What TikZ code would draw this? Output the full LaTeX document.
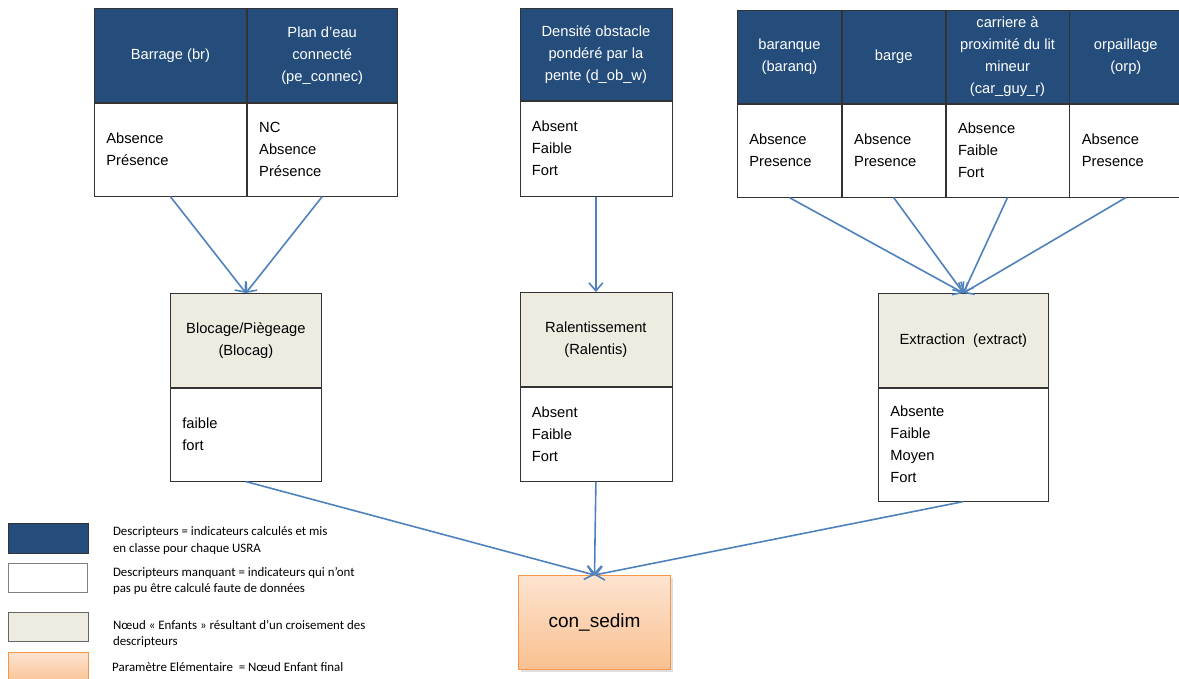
\documentclass[tikz,border=0pt]{standalone}
\usepackage{fontspec}
\setmainfont{Liberation Sans}
\newfontfamily\legendfam{Carlito}
\usetikzlibrary{positioning}
\usetikzlibrary{arrows.meta}
\usetikzlibrary{shadows}

\definecolor{descblue}{RGB}{36,77,124}
\definecolor{kidgray}{RGB}{238,236,225}
\definecolor{linkblue}{RGB}{79,129,189}
\definecolor{finaltop}{RGB}{253,228,208}
\definecolor{finalbot}{RGB}{250,192,144}
\definecolor{finaledge}{RGB}{247,150,70}
\newcommand\boxfont{\fontsize{14.7}{22}\selectfont}
\newcommand\legfont{\legendfam\fontsize{12.9}{16.5}\selectfont}

\tikzset{
	desc/.style={draw=black!80, line width=0.8pt, fill=descblue, text=white, align=center, font=\boxfont, minimum width=#1, minimum height=93pt, inner sep=2pt},
	kid/.style={draw=black!80, line width=0.8pt, fill=kidgray, align=center, font=\boxfont, minimum width=#1, minimum height=94pt, inner sep=2pt},
	vals/.style={draw=black!80, line width=0.8pt, fill=white, align=left, font=\boxfont, text width=#1, inner xsep=12pt, inner ysep=2pt, minimum height=93pt},
	final/.style={draw=finaledge, line width=1pt, top color=finaltop, bottom color=finalbot, font=\fontsize{19}{22}\selectfont, minimum width=152pt, minimum height=94pt, drop shadow={opacity=0.25, shadow xshift=2pt, shadow yshift=-2pt}},
	legbox/.style={line width=0.8pt, minimum width=80pt, minimum height=30pt, inner sep=0pt, anchor=north west},
	legtext/.style={font=\legfont, align=left, inner sep=0pt, anchor=west},
	link/.style={draw=linkblue, line width=1.6pt, -{Straight Barb[length=8pt,width=14pt]}}
}

\begin{document}
\begin{tikzpicture}[x=1pt, y=-1pt]
	\useasboundingbox (0,0) rectangle (1179,679);

	% descripteurs
	\node [desc=152pt, minimum height=94pt, anchor=north west] (br) at (94,8) {Barrage (br)};
	\node [desc=150pt, minimum height=94pt, right=0pt of br] (pe) {Plan d’eau\\connecté\\(pe\_connec)};
	\node [vals=128pt, below=0pt of br] (brv) {Absence\\Présence};
	\node [vals=126pt, below=0pt of pe] (pev) {NC\\Absence\\Présence};

	\node [desc=152pt, minimum height=92pt, anchor=north west] (dob) at (519.5,8) {Densité obstacle\\pondéré par la\\pente (d\_ob\_w)};
	\node [vals=128pt, minimum height=95pt, below=0pt of dob] (dobv) {Absent\\Faible\\Fort};

	\node [desc=104pt, anchor=north west] (baranq) at (737,10) {baranque\\(baranq)};
	\node [desc=103pt, right=0pt of baranq] (barge) {barge};
	\node [desc=123pt, right=0pt of barge] (car) {carriere à\\proximité du lit\\mineur\\(car\_guy\_r)};
	\node [desc=112pt, right=0pt of car] (orp) {orpaillage\\(orp)};
	\node [vals=80pt, below=0pt of baranq] (baranqv) {Absence\\Presence};
	\node [vals=79pt, below=0pt of barge] (bargev) {Absence\\Presence};
	\node [vals=99pt, below=0pt of car] (carv) {Absence\\Faible\\Fort};
	\node [vals=88pt, below=0pt of orp] (orpv) {Absence\\Presence};

	% noeuds enfants
	\node [kid=151pt, anchor=north west] (blocag) at (170,293) {Blocage/Piègeage\\(Blocag)};
	\node [vals=127pt, below=0pt of blocag] (blocagv) {faible\\fort};

	\node [kid=152pt, anchor=north west] (ralentis) at (519.5,292) {Ralentissement\\(Ralentis)};
	\node [vals=128pt, minimum height=94pt, below=0pt of ralentis] (ralentisv) {Absent\\Faible\\Fort};

	\node [kid=170pt, anchor=north west] (extract) at (878,293) {Extraction~ (extract)};
	\node [vals=146pt, minimum height=113pt, below=0pt of extract] (extractv) {Absente\\Faible\\Moyen\\Fort};

	\node [final, anchor=north west] (consedim) at (518,575) {con\_sedim};

	% liens
	\draw [link] (brv.south) -- (blocag.north);
	\draw [link] (pev.south) -- (blocag.north);
	\draw [link] (dobv.south) -- (ralentis.north);
	\draw [link] (baranqv.south) -- (extract.north);
	\draw [link] (bargev.south) -- (extract.north);
	\draw [link] (carv.south) -- (extract.north);
	\draw [link] (orpv.south) -- (extract.north);
	\draw [link] (blocagv.south) -- (consedim.north);
	\draw [link] (ralentisv.south) -- (consedim.north);
	\draw [link] (extractv.south) -- (consedim.north);

	% legende
	\node [legbox, draw=black!80, fill=descblue] (leg1) at (8,523) {};
	\node [legbox, draw=black!50, fill=white, minimum width=79pt, minimum height=29pt] (leg2) at (8,563) {};
	\node [legbox, draw=black!60, fill=kidgray, minimum height=29pt] (leg3) at (8,612) {};
	\node [legbox, draw=finaledge, top color=finaltop, bottom color=finalbot, minimum height=32pt] (leg4) at (8,652) {};
	\node [legtext, right=24pt of leg1, yshift=-2pt] (leg1t) {Descripteurs = indicateurs calculés et mis\\en classe pour chaque USRA};
	\node [legtext, right=25pt of leg2, yshift=-3pt] (leg2t) {Descripteurs manquant = indicateurs qui n’ont\\pas pu être calculé faute de données};
	\node [legtext, right=24pt of leg3, yshift=-7pt] (leg3t) {Nœud « Enfants » résultant d’un croisement des\\descripteurs};
	\node [legtext, anchor=base west] (leg4t) at (112,671) {Paramètre Elémentaire~ = Nœud Enfant final};
\end{tikzpicture}
\end{document}
